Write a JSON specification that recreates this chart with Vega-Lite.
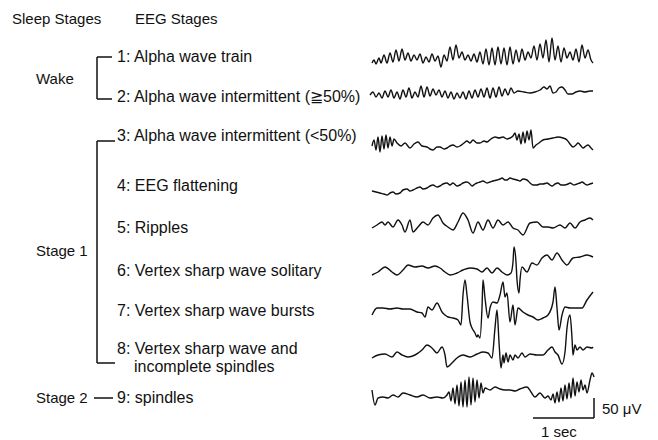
{
"$schema": "https://vega.github.io/schema/vega-lite/v6.json",
"width": 658, "height": 440,
"autosize": {"type": "fit", "contains": "padding"},
"padding": 0,
"background": "white",
"config": {"view": {"stroke": null}},
"datasets": {
"traces": [
{"s":1,"x":372,"y":63},{"s":1,"x":374,"y":60},{"s":1,"x":376,"y":64},{"s":1,"x":379,"y":58},{"s":1,"x":381,"y":63},{"s":1,"x":384,"y":55},{"s":1,"x":387,"y":63},{"s":1,"x":390,"y":53},{"s":1,"x":393,"y":62},{"s":1,"x":396,"y":50},{"s":1,"x":399,"y":61},{"s":1,"x":402,"y":49},{"s":1,"x":405,"y":60},{"s":1,"x":408,"y":53},{"s":1,"x":411,"y":61},{"s":1,"x":414,"y":55},{"s":1,"x":417,"y":60},{"s":1,"x":420,"y":54},{"s":1,"x":423,"y":63},{"s":1,"x":426,"y":57},{"s":1,"x":429,"y":62},{"s":1,"x":432,"y":54},{"s":1,"x":435,"y":61},{"s":1,"x":438,"y":56},{"s":1,"x":441,"y":67},{"s":1,"x":444,"y":55},{"s":1,"x":447,"y":61},{"s":1,"x":450,"y":47},{"s":1,"x":453,"y":60},{"s":1,"x":456,"y":45},{"s":1,"x":459,"y":58},{"s":1,"x":462,"y":52},{"s":1,"x":465,"y":60},{"s":1,"x":468,"y":55},{"s":1,"x":471,"y":61},{"s":1,"x":474,"y":54},{"s":1,"x":477,"y":62},{"s":1,"x":480,"y":52},{"s":1,"x":483,"y":64},{"s":1,"x":486,"y":49},{"s":1,"x":489,"y":65},{"s":1,"x":492,"y":48},{"s":1,"x":495,"y":65},{"s":1,"x":498,"y":47},{"s":1,"x":501,"y":64},{"s":1,"x":504,"y":48},{"s":1,"x":507,"y":65},{"s":1,"x":510,"y":47},{"s":1,"x":513,"y":64},{"s":1,"x":516,"y":50},{"s":1,"x":519,"y":62},{"s":1,"x":522,"y":49},{"s":1,"x":525,"y":60},{"s":1,"x":528,"y":52},{"s":1,"x":531,"y":58},{"s":1,"x":534,"y":46},{"s":1,"x":537,"y":60},{"s":1,"x":540,"y":44},{"s":1,"x":543,"y":58},{"s":1,"x":546,"y":40},{"s":1,"x":549,"y":62},{"s":1,"x":552,"y":38},{"s":1,"x":555,"y":60},{"s":1,"x":558,"y":46},{"s":1,"x":561,"y":62},{"s":1,"x":564,"y":48},{"s":1,"x":567,"y":58},{"s":1,"x":570,"y":52},{"s":1,"x":573,"y":60},{"s":1,"x":576,"y":49},{"s":1,"x":579,"y":62},{"s":1,"x":582,"y":45},{"s":1,"x":585,"y":58},{"s":1,"x":588,"y":50},{"s":1,"x":591,"y":60},{"s":1,"x":593,"y":63},
{"s":2,"x":370,"y":95},{"s":2,"x":373,"y":92},{"s":2,"x":376,"y":97},{"s":2,"x":379,"y":93},{"s":2,"x":382,"y":98},{"s":2,"x":385,"y":91},{"s":2,"x":388,"y":97},{"s":2,"x":391,"y":90},{"s":2,"x":394,"y":98},{"s":2,"x":397,"y":92},{"s":2,"x":400,"y":99},{"s":2,"x":403,"y":90},{"s":2,"x":406,"y":97},{"s":2,"x":409,"y":88},{"s":2,"x":412,"y":98},{"s":2,"x":415,"y":92},{"s":2,"x":418,"y":97},{"s":2,"x":421,"y":86},{"s":2,"x":424,"y":97},{"s":2,"x":427,"y":87},{"s":2,"x":430,"y":96},{"s":2,"x":433,"y":89},{"s":2,"x":436,"y":95},{"s":2,"x":439,"y":90},{"s":2,"x":442,"y":97},{"s":2,"x":445,"y":91},{"s":2,"x":448,"y":98},{"s":2,"x":451,"y":92},{"s":2,"x":454,"y":99},{"s":2,"x":457,"y":93},{"s":2,"x":460,"y":98},{"s":2,"x":463,"y":92},{"s":2,"x":466,"y":99},{"s":2,"x":469,"y":91},{"s":2,"x":472,"y":98},{"s":2,"x":475,"y":90},{"s":2,"x":478,"y":97},{"s":2,"x":481,"y":89},{"s":2,"x":484,"y":97},{"s":2,"x":487,"y":88},{"s":2,"x":490,"y":98},{"s":2,"x":493,"y":88},{"s":2,"x":496,"y":97},{"s":2,"x":499,"y":87},{"s":2,"x":502,"y":96},{"s":2,"x":505,"y":89},{"s":2,"x":508,"y":95},{"s":2,"x":511,"y":88},{"s":2,"x":514,"y":93},{"s":2,"x":518,"y":91},{"s":2,"x":524,"y":92},{"s":2,"x":530,"y":93},{"s":2,"x":535,"y":92},{"s":2,"x":540,"y":90},{"s":2,"x":544,"y":87},{"s":2,"x":547,"y":89},{"s":2,"x":550,"y":86},{"s":2,"x":553,"y":93},{"s":2,"x":556,"y":92},{"s":2,"x":559,"y":88},{"s":2,"x":562,"y":87},{"s":2,"x":565,"y":90},{"s":2,"x":568,"y":94},{"s":2,"x":572,"y":94},{"s":2,"x":576,"y":92},{"s":2,"x":580,"y":91},{"s":2,"x":585,"y":92},{"s":2,"x":590,"y":91},{"s":2,"x":593,"y":91},
{"s":3,"x":372,"y":146},{"s":3,"x":374,"y":140},{"s":3,"x":376,"y":150},{"s":3,"x":378,"y":137},{"s":3,"x":380,"y":152},{"s":3,"x":382,"y":136},{"s":3,"x":384,"y":149},{"s":3,"x":386,"y":135},{"s":3,"x":388,"y":148},{"s":3,"x":390,"y":137},{"s":3,"x":392,"y":146},{"s":3,"x":394,"y":139},{"s":3,"x":397,"y":143},{"s":3,"x":401,"y":146},{"s":3,"x":405,"y":143},{"s":3,"x":410,"y":148},{"s":3,"x":414,"y":144},{"s":3,"x":418,"y":142},{"s":3,"x":422,"y":146},{"s":3,"x":427,"y":147},{"s":3,"x":430,"y":149},{"s":3,"x":433,"y":150},{"s":3,"x":437,"y":147},{"s":3,"x":440,"y":147},{"s":3,"x":444,"y":149},{"s":3,"x":447,"y":148},{"s":3,"x":450,"y":146},{"s":3,"x":453,"y":145},{"s":3,"x":457,"y":147},{"s":3,"x":460,"y":146},{"s":3,"x":464,"y":143},{"s":3,"x":467,"y":141},{"s":3,"x":470,"y":143},{"s":3,"x":473,"y":140},{"s":3,"x":477,"y":143},{"s":3,"x":480,"y":143},{"s":3,"x":484,"y":141},{"s":3,"x":487,"y":142},{"s":3,"x":491,"y":139},{"s":3,"x":495,"y":137},{"s":3,"x":499,"y":138},{"s":3,"x":503,"y":137},{"s":3,"x":507,"y":139},{"s":3,"x":510,"y":138},{"s":3,"x":513,"y":136},{"s":3,"x":515,"y":133},{"s":3,"x":517,"y":140},{"s":3,"x":519,"y":134},{"s":3,"x":521,"y":144},{"s":3,"x":523,"y":132},{"s":3,"x":525,"y":143},{"s":3,"x":527,"y":131},{"s":3,"x":529,"y":140},{"s":3,"x":531,"y":130},{"s":3,"x":533,"y":148},{"s":3,"x":536,"y":145},{"s":3,"x":539,"y":143},{"s":3,"x":543,"y":140},{"s":3,"x":548,"y":139},{"s":3,"x":553,"y":138},{"s":3,"x":558,"y":137},{"s":3,"x":563,"y":138},{"s":3,"x":567,"y":140},{"s":3,"x":570,"y":144},{"s":3,"x":573,"y":147},{"s":3,"x":576,"y":145},{"s":3,"x":578,"y":143},{"s":3,"x":581,"y":146},{"s":3,"x":583,"y":148},{"s":3,"x":586,"y":146},{"s":3,"x":588,"y":145},{"s":3,"x":591,"y":148},{"s":3,"x":593,"y":150},
{"s":4,"x":372,"y":191},{"s":4,"x":376,"y":192},{"s":4,"x":380,"y":193},{"s":4,"x":384,"y":194},{"s":4,"x":387,"y":195},{"s":4,"x":390,"y":193},{"s":4,"x":393,"y":192},{"s":4,"x":396,"y":194},{"s":4,"x":400,"y":193},{"s":4,"x":403,"y":190},{"s":4,"x":407,"y":189},{"s":4,"x":410,"y":191},{"s":4,"x":413,"y":190},{"s":4,"x":417,"y":188},{"s":4,"x":420,"y":187},{"s":4,"x":423,"y":189},{"s":4,"x":427,"y":188},{"s":4,"x":430,"y":186},{"s":4,"x":433,"y":185},{"s":4,"x":437,"y":187},{"s":4,"x":440,"y":186},{"s":4,"x":443,"y":184},{"s":4,"x":447,"y":183},{"s":4,"x":450,"y":185},{"s":4,"x":453,"y":183},{"s":4,"x":457,"y":186},{"s":4,"x":460,"y":185},{"s":4,"x":463,"y":183},{"s":4,"x":467,"y":182},{"s":4,"x":470,"y":184},{"s":4,"x":472,"y":186},{"s":4,"x":475,"y":184},{"s":4,"x":477,"y":183},{"s":4,"x":480,"y":182},{"s":4,"x":483,"y":181},{"s":4,"x":487,"y":183},{"s":4,"x":490,"y":182},{"s":4,"x":493,"y":181},{"s":4,"x":497,"y":180},{"s":4,"x":500,"y":179},{"s":4,"x":502,"y":178},{"s":4,"x":505,"y":180},{"s":4,"x":507,"y":180},{"s":4,"x":510,"y":178},{"s":4,"x":513,"y":179},{"s":4,"x":517,"y":180},{"s":4,"x":520,"y":181},{"s":4,"x":523,"y":179},{"s":4,"x":527,"y":180},{"s":4,"x":530,"y":183},{"s":4,"x":533,"y":185},{"s":4,"x":537,"y":185},{"s":4,"x":540,"y":184},{"s":4,"x":543,"y":184},{"s":4,"x":547,"y":183},{"s":4,"x":550,"y":185},{"s":4,"x":552,"y":186},{"s":4,"x":555,"y":184},{"s":4,"x":558,"y":183},{"s":4,"x":561,"y":185},{"s":4,"x":565,"y":185},{"s":4,"x":568,"y":184},{"s":4,"x":570,"y":183},{"s":4,"x":574,"y":185},{"s":4,"x":577,"y":184},{"s":4,"x":580,"y":183},{"s":4,"x":582,"y":182},{"s":4,"x":585,"y":184},{"s":4,"x":587,"y":185},{"s":4,"x":590,"y":184},{"s":4,"x":593,"y":183},
{"s":5,"x":372,"y":228},{"s":5,"x":377,"y":225},{"s":5,"x":382,"y":222},{"s":5,"x":385,"y":225},{"s":5,"x":388,"y":222},{"s":5,"x":393,"y":227},{"s":5,"x":398,"y":220},{"s":5,"x":402,"y":225},{"s":5,"x":405,"y":232},{"s":5,"x":410,"y":220},{"s":5,"x":413,"y":232},{"s":5,"x":418,"y":227},{"s":5,"x":423,"y":222},{"s":5,"x":428,"y":225},{"s":5,"x":433,"y":218},{"s":5,"x":438,"y":215},{"s":5,"x":443,"y":223},{"s":5,"x":448,"y":227},{"s":5,"x":453,"y":230},{"s":5,"x":458,"y":222},{"s":5,"x":463,"y":213},{"s":5,"x":468,"y":220},{"s":5,"x":473,"y":233},{"s":5,"x":478,"y":222},{"s":5,"x":483,"y":230},{"s":5,"x":488,"y":220},{"s":5,"x":493,"y":228},{"s":5,"x":498,"y":220},{"s":5,"x":503,"y":225},{"s":5,"x":508,"y":222},{"s":5,"x":513,"y":228},{"s":5,"x":518,"y":230},{"s":5,"x":523,"y":235},{"s":5,"x":530,"y":223},{"s":5,"x":537,"y":222},{"s":5,"x":543,"y":227},{"s":5,"x":548,"y":227},{"s":5,"x":553,"y":228},{"s":5,"x":560,"y":225},{"s":5,"x":565,"y":228},{"s":5,"x":570,"y":223},{"s":5,"x":575,"y":228},{"s":5,"x":580,"y":222},{"s":5,"x":585,"y":220},{"s":5,"x":590,"y":218},{"s":5,"x":593,"y":220},
{"s":6,"x":372,"y":275},{"s":6,"x":378,"y":272},{"s":6,"x":385,"y":267},{"s":6,"x":392,"y":272},{"s":6,"x":397,"y":275},{"s":6,"x":403,"y":270},{"s":6,"x":408,"y":265},{"s":6,"x":415,"y":267},{"s":6,"x":422,"y":266},{"s":6,"x":428,"y":268},{"s":6,"x":435,"y":266},{"s":6,"x":440,"y":268},{"s":6,"x":445,"y":272},{"s":6,"x":450,"y":275},{"s":6,"x":457,"y":273},{"s":6,"x":463,"y":270},{"s":6,"x":470,"y":268},{"s":6,"x":477,"y":269},{"s":6,"x":482,"y":272},{"s":6,"x":487,"y":268},{"s":6,"x":492,"y":273},{"s":6,"x":497,"y":268},{"s":6,"x":502,"y":272},{"s":6,"x":507,"y":275},{"s":6,"x":511,"y":273},{"s":6,"x":513,"y":262},{"s":6,"x":514,"y":247},{"s":6,"x":516,"y":262},{"s":6,"x":517,"y":280},{"s":6,"x":519,"y":293},{"s":6,"x":520,"y":280},{"s":6,"x":522,"y":267},{"s":6,"x":527,"y":272},{"s":6,"x":532,"y":263},{"s":6,"x":537,"y":265},{"s":6,"x":542,"y":258},{"s":6,"x":547,"y":255},{"s":6,"x":552,"y":260},{"s":6,"x":557,"y":253},{"s":6,"x":562,"y":260},{"s":6,"x":567,"y":265},{"s":6,"x":573,"y":258},{"s":6,"x":580,"y":257},{"s":6,"x":587,"y":255},{"s":6,"x":593,"y":257},
{"s":7,"x":372,"y":315},{"s":7,"x":377,"y":308},{"s":7,"x":383,"y":308},{"s":7,"x":390,"y":309},{"s":7,"x":397,"y":308},{"s":7,"x":403,"y":309},{"s":7,"x":410,"y":309},{"s":7,"x":417,"y":312},{"s":7,"x":422,"y":313},{"s":7,"x":425,"y":317},{"s":7,"x":428,"y":307},{"s":7,"x":432,"y":310},{"s":7,"x":437,"y":303},{"s":7,"x":442,"y":312},{"s":7,"x":445,"y":315},{"s":7,"x":448,"y":317},{"s":7,"x":453,"y":318},{"s":7,"x":458,"y":320},{"s":7,"x":461,"y":325},{"s":7,"x":463,"y":295},{"s":7,"x":465,"y":280},{"s":7,"x":467,"y":295},{"s":7,"x":470,"y":322},{"s":7,"x":472,"y":328},{"s":7,"x":475,"y":333},{"s":7,"x":477,"y":337},{"s":7,"x":478,"y":335},{"s":7,"x":480,"y":338},{"s":7,"x":482,"y":308},{"s":7,"x":483,"y":280},{"s":7,"x":485,"y":298},{"s":7,"x":488,"y":318},{"s":7,"x":490,"y":308},{"s":7,"x":493,"y":302},{"s":7,"x":497,"y":303},{"s":7,"x":500,"y":295},{"s":7,"x":503,"y":282},{"s":7,"x":505,"y":297},{"s":7,"x":507,"y":293},{"s":7,"x":510,"y":322},{"s":7,"x":513,"y":305},{"s":7,"x":515,"y":325},{"s":7,"x":518,"y":308},{"s":7,"x":523,"y":312},{"s":7,"x":528,"y":315},{"s":7,"x":533,"y":317},{"s":7,"x":538,"y":320},{"s":7,"x":543,"y":318},{"s":7,"x":548,"y":315},{"s":7,"x":553,"y":302},{"s":7,"x":555,"y":287},{"s":7,"x":557,"y":308},{"s":7,"x":559,"y":330},{"s":7,"x":562,"y":315},{"s":7,"x":565,"y":307},{"s":7,"x":570,"y":308},{"s":7,"x":577,"y":308},{"s":7,"x":582,"y":308},{"s":7,"x":587,"y":300},{"s":7,"x":593,"y":292},
{"s":8,"x":372,"y":358},{"s":8,"x":378,"y":355},{"s":8,"x":385,"y":354},{"s":8,"x":392,"y":357},{"s":8,"x":397,"y":352},{"s":8,"x":402,"y":355},{"s":8,"x":408,"y":357},{"s":8,"x":415,"y":355},{"s":8,"x":422,"y":350},{"s":8,"x":427,"y":345},{"s":8,"x":432,"y":348},{"s":8,"x":437,"y":353},{"s":8,"x":442,"y":347},{"s":8,"x":445,"y":355},{"s":8,"x":447,"y":367},{"s":8,"x":452,"y":363},{"s":8,"x":457,"y":358},{"s":8,"x":463,"y":355},{"s":8,"x":470,"y":357},{"s":8,"x":477,"y":354},{"s":8,"x":483,"y":352},{"s":8,"x":488,"y":353},{"s":8,"x":492,"y":358},{"s":8,"x":495,"y":328},{"s":8,"x":497,"y":310},{"s":8,"x":499,"y":342},{"s":8,"x":501,"y":368},{"s":8,"x":503,"y":355},{"s":8,"x":504,"y":363},{"s":8,"x":506,"y":353},{"s":8,"x":508,"y":362},{"s":8,"x":510,"y":355},{"s":8,"x":513,"y":360},{"s":8,"x":515,"y":355},{"s":8,"x":518,"y":358},{"s":8,"x":522,"y":353},{"s":8,"x":525,"y":357},{"s":8,"x":530,"y":354},{"s":8,"x":537,"y":355},{"s":8,"x":543,"y":355},{"s":8,"x":548,"y":350},{"s":8,"x":552,"y":347},{"s":8,"x":555,"y":352},{"s":8,"x":558,"y":355},{"s":8,"x":562,"y":364},{"s":8,"x":565,"y":352},{"s":8,"x":567,"y":328},{"s":8,"x":570,"y":315},{"s":8,"x":572,"y":338},{"s":8,"x":573,"y":355},{"s":8,"x":575,"y":345},{"s":8,"x":577,"y":350},{"s":8,"x":580,"y":347},{"s":8,"x":583,"y":350},{"s":8,"x":587,"y":347},{"s":8,"x":592,"y":348},{"s":8,"x":593,"y":347},
{"s":9,"x":372,"y":390},{"s":9,"x":375,"y":405},{"s":9,"x":378,"y":398},{"s":9,"x":383,"y":397},{"s":9,"x":388,"y":398},{"s":9,"x":393,"y":395},{"s":9,"x":398,"y":397},{"s":9,"x":403,"y":393},{"s":9,"x":410,"y":395},{"s":9,"x":417,"y":397},{"s":9,"x":423,"y":395},{"s":9,"x":430,"y":398},{"s":9,"x":437,"y":397},{"s":9,"x":443,"y":398},{"s":9,"x":447,"y":395},{"s":9,"x":449,"y":392},{"s":9,"x":451,"y":401},{"s":9,"x":453,"y":388},{"s":9,"x":455,"y":404},{"s":9,"x":457,"y":385},{"s":9,"x":459,"y":406},{"s":9,"x":461,"y":382},{"s":9,"x":463,"y":407},{"s":9,"x":465,"y":380},{"s":9,"x":467,"y":407},{"s":9,"x":469,"y":377},{"s":9,"x":471,"y":405},{"s":9,"x":473,"y":378},{"s":9,"x":475,"y":402},{"s":9,"x":477,"y":380},{"s":9,"x":479,"y":398},{"s":9,"x":481,"y":383},{"s":9,"x":483,"y":393},{"s":9,"x":485,"y":388},{"s":9,"x":490,"y":390},{"s":9,"x":495,"y":387},{"s":9,"x":500,"y":389},{"s":9,"x":505,"y":390},{"s":9,"x":510,"y":390},{"s":9,"x":515,"y":391},{"s":9,"x":520,"y":389},{"s":9,"x":527,"y":387},{"s":9,"x":531,"y":392},{"s":9,"x":535,"y":397},{"s":9,"x":540,"y":393},{"s":9,"x":545,"y":398},{"s":9,"x":548,"y":396},{"s":9,"x":551,"y":400},{"s":9,"x":553,"y":394},{"s":9,"x":555,"y":403},{"s":9,"x":557,"y":392},{"s":9,"x":559,"y":402},{"s":9,"x":561,"y":388},{"s":9,"x":563,"y":401},{"s":9,"x":565,"y":385},{"s":9,"x":567,"y":399},{"s":9,"x":569,"y":383},{"s":9,"x":571,"y":398},{"s":9,"x":573,"y":378},{"s":9,"x":575,"y":396},{"s":9,"x":577,"y":382},{"s":9,"x":579,"y":392},{"s":9,"x":581,"y":380},{"s":9,"x":583,"y":390},{"s":9,"x":585,"y":385},{"s":9,"x":587,"y":393},{"s":9,"x":590,"y":380},{"s":9,"x":592,"y":373},{"s":9,"x":594,"y":377}
],
"rules": [
{"x":97,"x2":97,"y":57,"y2":99},{"x":97,"x2":112,"y":57,"y2":57},{"x":97,"x2":112,"y":99,"y2":99},
{"x":97,"x2":97,"y":141,"y2":363},{"x":97,"x2":115,"y":141,"y2":141},{"x":97,"x2":115,"y":363,"y2":363},
{"x":94,"x2":113,"y":398,"y2":398},
{"x":533,"x2":594,"y":418,"y2":418},{"x":594,"x2":594,"y":398,"y2":418}
],
"heads": [
{"x":12,"y":19,"t":"Sleep Stages"},
{"x":135,"y":19,"t":"EEG Stages"},
{"x":36,"y":79,"t":"Wake"},
{"x":36,"y":251,"t":"Stage 1"},
{"x":36,"y":398,"t":"Stage 2"},
{"x":602,"y":409,"t":"50 μV"},
{"x":541,"y":432,"t":"1 sec"}
],
"labels": [
{"x":117,"y":57,"t":"1: Alpha wave train"},
{"x":117,"y":97,"t":"2: Alpha wave intermittent (≧50%)"},
{"x":117,"y":136,"t":"3: Alpha wave intermittent (<50%)"},
{"x":117,"y":186,"t":"4: EEG flattening"},
{"x":117,"y":228,"t":"5: Ripples"},
{"x":117,"y":271,"t":"6: Vertex sharp wave solitary"},
{"x":117,"y":311,"t":"7: Vertex sharp wave bursts"},
{"x":117,"y":349,"t":"8: Vertex sharp wave and"},
{"x":134,"y":367,"t":"incomplete spindles"},
{"x":117,"y":398,"t":"9: spindles"}
]
},
"layer": [
{"data": {"name": "traces"},
 "mark": {"type": "line", "stroke": "#111", "strokeWidth": 1.4, "strokeJoin": "round", "interpolate": "monotone"},
 "encoding": {
  "x": {"field": "x", "type": "quantitative", "scale": {"domain": [0, 658], "nice": false, "zero": false}, "axis": null},
  "y": {"field": "y", "type": "quantitative", "scale": {"domain": [0, 440], "nice": false, "zero": false, "reverse": true}, "axis": null},
  "detail": {"field": "s", "type": "nominal"}
 }},
{"data": {"name": "rules"},
 "mark": {"type": "rule", "stroke": "#111", "strokeWidth": 1.5},
 "encoding": {
  "x": {"field": "x", "type": "quantitative"},
  "x2": {"field": "x2"},
  "y": {"field": "y", "type": "quantitative"},
  "y2": {"field": "y2"}
 }},
{"data": {"name": "heads"},
 "mark": {"type": "text", "align": "left", "baseline": "middle", "font": "Liberation Sans", "fontSize": 15, "fill": "#111"},
 "encoding": {
  "x": {"field": "x", "type": "quantitative"},
  "y": {"field": "y", "type": "quantitative"},
  "text": {"field": "t", "type": "nominal"}
 }},
{"data": {"name": "labels"},
 "mark": {"type": "text", "align": "left", "baseline": "middle", "font": "Liberation Sans", "fontSize": 16, "fill": "#111"},
 "encoding": {
  "x": {"field": "x", "type": "quantitative"},
  "y": {"field": "y", "type": "quantitative"},
  "text": {"field": "t", "type": "nominal"}
 }}
]
}
